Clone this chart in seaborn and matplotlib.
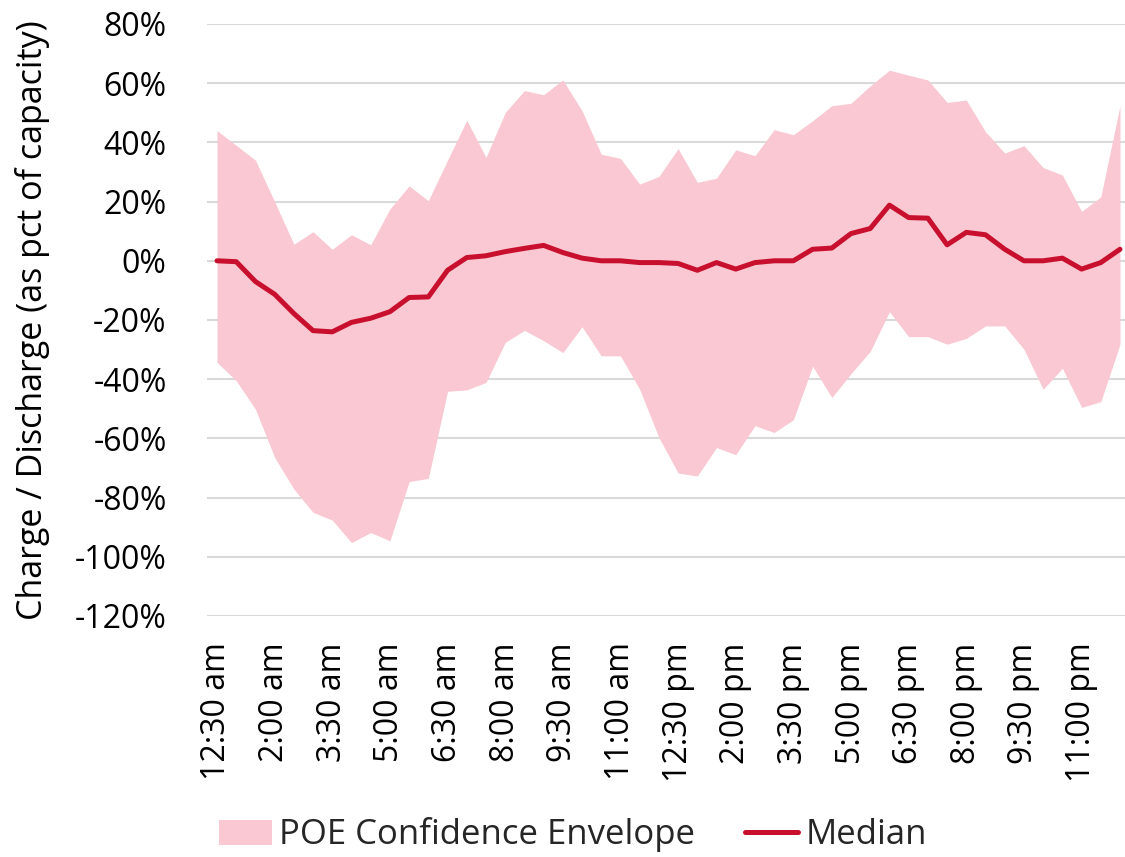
import matplotlib
matplotlib.use("Agg")
import matplotlib.pyplot as plt
import seaborn as sns
import pandas as pd
from matplotlib.ticker import FuncFormatter
from matplotlib.patches import Patch
from matplotlib.lines import Line2D

# Half-hourly slots, 12:30 am .. 12:00 am (48 intervals)
tick_labels = ["12:30 am", "2:00 am", "3:30 am", "5:00 am", "6:30 am", "8:00 am",
               "9:30 am", "11:00 am", "12:30 pm", "2:00 pm", "3:30 pm", "5:00 pm",
               "6:30 pm", "8:00 pm", "9:30 pm", "11:00 pm"]

upper = [44, 39, 34, 20, 5.6, 9.8, 3.9, 8.8, 5.4, 17.5, 25.3, 20.3,
         34, 47.5, 34.9, 50.1, 57.5, 56.1, 61.1, 50.7, 36, 34.6, 25.9, 28.5,
         37.9, 26.5, 27.9, 37.5, 35.5, 44.3, 42.6, 47.3, 52.4, 53.2, 59.1, 64.4,
         62.7, 61.1, 53.5, 54.3, 43.6, 36.4, 38.9, 31.5, 29, 16.7, 21.6, 52.4]

lower = [-34.3, -40.5, -50.1, -66.4, -77.1, -85, -87.6, -95.2, -91.8, -94.6, -74.6, -73.5,
         -44.1, -43.6, -41.1, -27.6, -23.5, -27, -31, -22.3, -32.1, -32.1, -43.4, -59.7,
         -71.7, -72.7, -63.1, -65.5, -55.7, -58, -53.7, -35.6, -46.2, -38.1, -30.6, -17.2,
         -25.6, -25.6, -28.2, -26.2, -22, -22, -29.9, -43.4, -36.3, -49.5, -47.6, -28.2]

median = [0, -0.3, -7, -11.3, -17.8, -23.6, -24, -20.8, -19.4, -17.2, -12.4, -12.2,
          -3.2, 1.1, 1.7, 3.1, 4.2, 5.2, 2.8, 0.9, 0, 0, -0.6, -0.6,
          -0.9, -3.2, -0.6, -2.8, -0.6, 0, 0, 3.9, 4.3, 9.2, 10.9, 18.8,
          14.6, 14.4, 5.4, 9.6, 8.8, 3.9, 0, 0, 0.9, -2.8, -0.6, 3.9]

df = pd.DataFrame({"slot": range(len(median)), "upper": upper,
                   "lower": lower, "median": median})

sns.set_theme(style="white")
plt.rcParams["font.family"] = ["Open Sans", "DejaVu Sans"]

fill_color = "#f9c8d2"
line_color = "#c8102e"
fs = 23

fig = plt.figure(figsize=(11.25, 8.57), dpi=100)
ax = fig.add_axes([207 / 1125, 1 - 616 / 857, 1 - 207 / 1125, (616 - 24) / 857])

ax.fill_between(df["slot"], df["lower"], df["upper"], color=fill_color, lw=0, zorder=2)
sns.lineplot(data=df, x="slot", y="median", color=line_color, linewidth=3.6,
             ax=ax, zorder=3, legend=False)

ax.set_ylim(-120, 80)
ax.set_yticks(range(-120, 81, 20))
ax.yaxis.set_major_formatter(FuncFormatter(lambda v, p: f"{v:.0f}%"))
ax.set_xlim(-0.52, 47.26)
ax.set_xticks(range(0, 48, 3))
ax.set_xticklabels(tick_labels, rotation=90, fontsize=fs)
ax.tick_params(axis="y", labelsize=fs, length=0, pad=29)
ax.tick_params(axis="x", length=0, pad=19)
for lab in ax.get_yticklabels() + ax.get_xticklabels():
    lab.set_color("black")

ax.grid(axis="y", color="#d9d9d9", linewidth=1.5, zorder=0)
ax.grid(axis="x", visible=False)
ax.set_axisbelow(True)
for s in ax.spines.values():
    s.set_visible(False)

ax.set_xlabel("")
ax.set_ylabel("Charge / Discharge (as pct of capacity)", fontsize=24.5, color="black")
ax.yaxis.set_label_coords((50 - 207) / 918, 0.5)

handles = [Patch(facecolor=fill_color, edgecolor="none"),
           Line2D([0], [0], color=line_color, linewidth=3.6)]
fig.legend(handles, ["POE Confidence Envelope", "Median"], loc="center",
           bbox_to_anchor=(573 / 1125, 1 - 835 / 857), ncol=2, frameon=False,
           fontsize=25, handlelength=1.53, handletextpad=0.2, columnspacing=1.44)

fig.savefig("out.png", dpi=100)
